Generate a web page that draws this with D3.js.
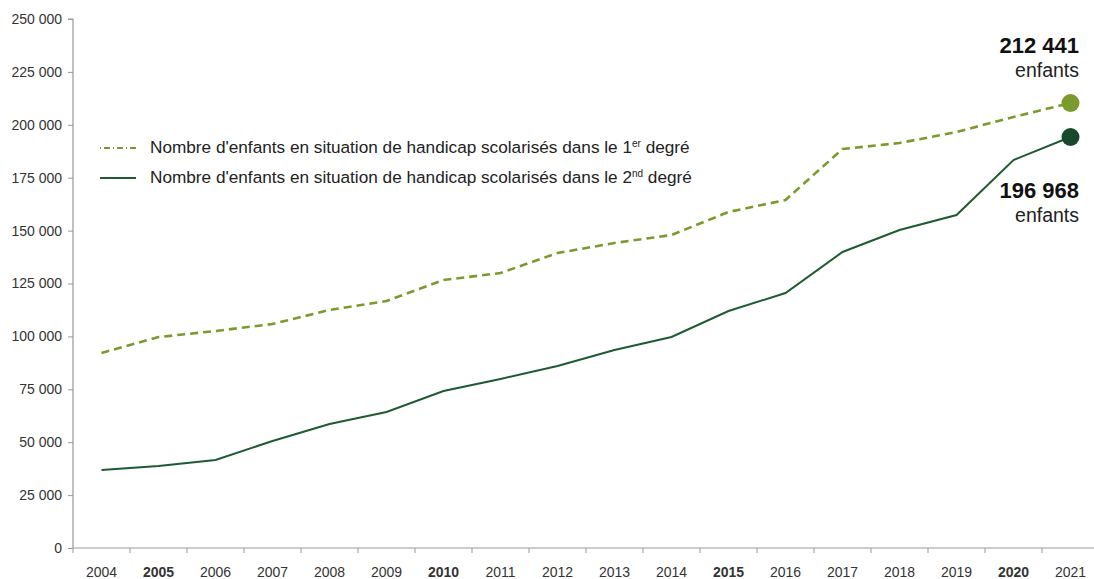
<!DOCTYPE html>
<html><head><meta charset="utf-8">
<script src="https://cdn.jsdelivr.net/npm/d3@7"></script>
<style>body{margin:0;background:#fff;font-family:"Liberation Sans",Arial,sans-serif;}</style>
</head><body><svg id="c" width="1094" height="579"></svg>
<script>
const years = ["2004","2005","2006","2007","2008","2009","2010","2011","2012","2013","2014","2015","2016","2017","2018","2019","2020","2021"];
const boldYears = ["2005","2010","2015","2020"];
const premier = [92150,99700,102550,105860,112480,116730,126650,129960,139410,144140,147920,158790,164460,188560,191400,196600,203690,210300];
const second = [36860,38750,41590,50570,58600,64270,74200,79870,86010,93570,99720,112000,120510,139890,150280,157370,183360,194230];
const yTicks = [0,25000,50000,75000,100000,125000,150000,175000,200000,225000,250000];
const legendLabels = [["Nombre d'enfants en situation de handicap scolarisés dans le 1","er"," degré"],["Nombre d'enfants en situation de handicap scolarisés dans le 2","nd"," degré"]];
const endLabels = ["212 441","196 968"];

const svg = d3.select("#c");
const FF = "Liberation Sans, Arial, sans-serif";
const x = d3.scaleBand().domain(years).range([73, 1099]);
const y = d3.scaleLinear().domain([0,250000]).range([548, 19]);
const fmt = v => d3.format(",")(v).replace(/,/g, " ");

const ya = svg.append("g").attr("transform","translate(73,0)")
  .call(d3.axisLeft(y).tickValues(yTicks).tickFormat(fmt).tickSize(5).tickPadding(6));
ya.select(".domain").attr("stroke","#999").attr("stroke-width",1.2).attr("d","M-5,19H0V548");
ya.selectAll(".tick line").attr("stroke","#999");
ya.selectAll(".tick text").attr("fill","#333").attr("font-size",14).attr("font-family",FF);

const xa = svg.append("g").attr("transform","translate(0,548)")
  .call(d3.axisBottom(x).tickSize(0).tickPadding(19));
xa.select(".domain").attr("stroke","#999").attr("stroke-width",1.2).attr("d","M73,0H1094");
xa.selectAll(".tick text").attr("fill","#333").attr("font-size",14).attr("font-family",FF)
  .attr("font-weight", d => boldYears.includes(d) ? "bold" : "normal");
xa.selectAll(".tick").append("line").attr("stroke","#999").attr("x1",-x.bandwidth()/2).attr("x2",-x.bandwidth()/2).attr("y1",0).attr("y2",5);

const cx = d => x(d) + x.bandwidth()/2;
const line = d3.line().x((d,i)=>cx(years[i])).y(d=>y(d));

svg.append("path").datum(premier).attr("d",line).attr("fill","none")
  .attr("stroke","#7b9a2e").attr("stroke-width",2.6).attr("stroke-dasharray","8,5");
svg.append("path").datum(second).attr("d",line).attr("fill","none")
  .attr("stroke","#1e5b33").attr("stroke-width",2);

const last = years[years.length-1];
svg.append("circle").attr("cx",cx(last)).attr("cy",y(premier[premier.length-1])).attr("r",9).attr("fill","#7b9a2e");
svg.append("circle").attr("cx",cx(last)).attr("cy",y(second[second.length-1])).attr("r",9).attr("fill","#17492a");

// end labels
const el = svg.append("g").attr("font-family",FF).attr("text-anchor","end").attr("fill","#111");
el.append("text").attr("x",1079).attr("y",53).attr("font-size",22).attr("font-weight","bold").text(endLabels[0]);
el.append("text").attr("x",1079).attr("y",77).attr("font-size",19.5).attr("fill","#222").text("enfants");
el.append("text").attr("x",1079).attr("y",198).attr("font-size",22).attr("font-weight","bold").text(endLabels[1]);
el.append("text").attr("x",1079).attr("y",222).attr("font-size",19.5).attr("fill","#222").text("enfants");

// legend
const lg = svg.append("g").attr("font-family",FF);
lg.append("line").attr("x1",100).attr("x2",136).attr("y1",148).attr("y2",148).attr("stroke","#7b9a2e").attr("stroke-width",2).attr("stroke-dasharray","1,3,6,3");
lg.append("line").attr("x1",100).attr("x2",136).attr("y1",178).attr("y2",178).attr("stroke","#1e5b33").attr("stroke-width",2.2);
legendLabels.forEach((l,i)=>{
  const t = lg.append("text").attr("x",150).attr("y",153+i*30).attr("font-size",17.2).attr("fill","#222");
  t.append("tspan").text(l[0]);
  t.append("tspan").attr("dy",-6).attr("font-size",10).text(l[1]);
  t.append("tspan").attr("dy",6).text(l[2]);
});
</script></body></html>
